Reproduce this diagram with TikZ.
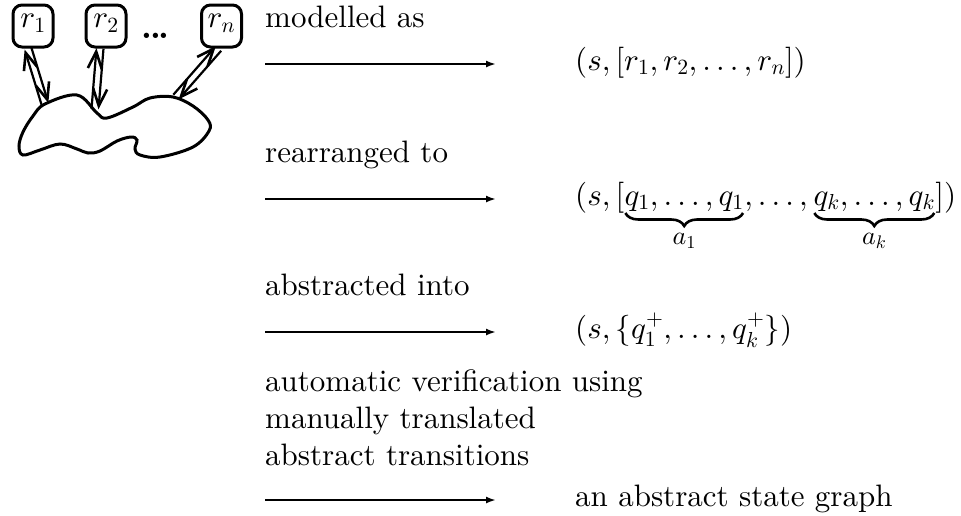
\documentclass[tikz,border=0pt]{standalone}
\usetikzlibrary{arrows.meta,calc,decorations.pathreplacing}

% 10pt master designs, scaled freely to any size
\DeclareFontShape{TU}{lmr}{m}{n}{<->\UnicodeFontFile{lmroman10-regular}{\UnicodeFontTeXLigatures}}{}
\DeclareFontShape{TU}{lmr}{b}{n}{<->\UnicodeFontFile{lmroman10-bold}{\UnicodeFontTeXLigatures}}{}
\DeclareFontShape{TU}{lmr}{bx}{n}{<->\UnicodeFontFile{lmroman10-bold}{\UnicodeFontTeXLigatures}}{}
\DeclareFontShape{OT1}{cmr}{m}{n}{<->cmr10}{}
\DeclareFontShape{OML}{cmm}{m}{it}{<->cmmi10}{}
\DeclareFontShape{OMS}{cmsy}{m}{n}{<->cmsy10}{}
\DeclareFontShape{OMX}{cmex}{m}{n}{<->cmex10}{}

\begin{document}
\begin{tikzpicture}[x=1pt,y=-1pt,
  big/.style={font=\fontsize{31}{37}\selectfont, inner sep=0pt},
  small/.style={font=\fontsize{26}{30}\selectfont, inner sep=0pt},
  res/.style={draw, line width=3pt, rounded corners=9pt, minimum width=40pt,
              minimum height=42pt, inner sep=2pt, text depth=10pt,
              font=\fontsize{31}{37}\selectfont},
  link/.style={line width=2.2pt, -{Straight Barb[length=17pt,width=14pt,line width=2.6pt]}},
  step arrow/.style={line width=2.4pt, -{Latex[length=10pt,width=7pt]}},
  group brace/.style={decorate, decoration={brace, mirror, amplitude=13pt}, line width=2.6pt}]

  % canvas
  \fill[white] (0,0) rectangle (961,515);
  \useasboundingbox (0,0) rectangle (961,515);

  % resources
  \node[res] (r1) at (33,26) {$r_1$};
  \node[res] (r2) at (106,26) {$r_2$};
  \node[res] (rn) at (221.5,26) {$r_n$};
  \node[font=\fontsize{34}{40}\selectfont\bfseries, inner sep=0pt, anchor=base]
    (dots) at (155.5,38) {.\kern-2.5pt.\kern-2.5pt.};

  % the system
  \draw[line width=3pt] plot[smooth cycle, tension=0.6] coordinates {
    (45,104) (77,95) (97,113) (107,118) (133,107) (150,98) (173,97) (193,106)
    (208,120) (209,131) (193,147) (160,157) (140,155) (135,149) (137,140)
    (131,137) (117,141) (100,151) (88,153) (77,149) (60,144) (40,150)
    (23,155) (19,146) (23,132) (33,116)};

  % attachment points
  \coordinate (t1) at ($(r1.south)+(-5,0)$);
  \coordinate (t2) at ($(r2.south)+(-6,0)$);
  \coordinate (tn) at ($(rn.south)+(-3,0)$);
  \coordinate (b1) at (45,104);
  \coordinate (b2) at (95,109);
  \coordinate (bn) at (176,97);

  \foreach \u/\v in {t1/b1, t2/b2, tn/bn} {
    \draw[link] ($(\v)!3.5pt!90:(\u)$) -- ($(\u)!3.5pt!-90:(\v)$);
    \draw[link] ($(\u)!3.5pt!90:(\v)$) -- ($(\v)!3.5pt!-90:(\u)$);
  }

  % step 1
  \node[big, anchor=base west] (l1) at (265,27) {modelled as};
  \coordinate (s1) at (265,64);
  \coordinate (e1) at (496,64);
  \draw[step arrow] (s1) -- (e1);
  \node[big, anchor=base west] (f1) at (575,70) {$(s,[r_1,r_2,\ldots,r_n])$};

  % step 2
  \node[big, anchor=base west] (l2) at (265,162) {rearranged to};
  \coordinate (s2) at (265,199);
  \coordinate (e2) at (496,199);
  \draw[step arrow] (s2) -- (e2);
  \node[big, anchor=base west] (f2a) at (575,205) {$(s,[$};
  \node[big, anchor=base west] (g1) at (f2a.base east) {$q_1,\ldots,q_1$};
  \node[big, anchor=base west] (f2b) at (g1.base east) {$,\ldots,\,$};
  \node[big, anchor=base west] (g2) at (f2b.base east) {$q_k,\ldots,q_k$};
  \node[big, anchor=base west] (f2c) at (g2.base east) {$])$};
  \draw[group brace] ($(g1.base west)+(1,8)$) -- ($(g1.base east)+(-1,8)$)
    node[small, midway, yshift=-28pt] (n1) {$a_1$};
  \draw[group brace] ($(g2.base west)+(1,8)$) -- ($(g2.base east)+(-1,8)$)
    node[small, midway, yshift=-28pt] (nk) {$a_k$};

  % step 3
  \node[big, anchor=base west] (l3) at (265,295) {abstracted into};
  \coordinate (s3) at (265,332);
  \coordinate (e3) at (496,332);
  \draw[step arrow, line width=2.9pt] (s3) -- (e3);
  \node[big, anchor=base west] (f3) at (575,338) {$(s,\{q_1^+,\ldots,q_k^+\})$};

  % step 4
  \node[big, anchor=north west, align=left] (l4) at (265,369)
    {automatic verification using\\ manually translated\\ abstract transitions};
  \coordinate (s4) at (265,500);
  \coordinate (e4) at (496,500);
  \draw[step arrow] (s4) -- (e4);
  \node[big, anchor=base west] (f4) at (575,506) {an abstract state graph};
\end{tikzpicture}
\end{document}
